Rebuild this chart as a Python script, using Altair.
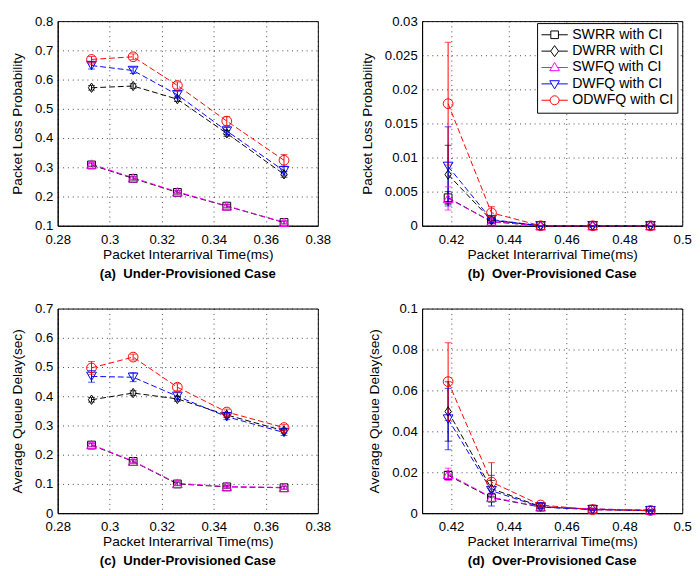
import altair as alt
import pandas as pd

FONT = "Liberation Sans"

series = ["SWRR with CI", "DWRR with CI", "SWFQ with CI", "DWFQ with CI", "ODWFQ with CI"]
colors = ["#000000", "#000000", "#ff00ff", "#0000ff", "#ff0000"]
marker_shapes = ["square", "M0,-1.2L0.8,0L0,1.2L-0.8,0Z", "triangle-up", "triangle-down", "circle"]
marker_sizes = [64, 64, 100, 100, 100]
legend_paths = [
    "M-1,0H-0.29M0.29,0H1M-0.29,-0.29H0.29V0.29H-0.29Z",
    "M-1,0H-0.3M0.3,0H1M0,-0.42L0.3,0L0,0.42L-0.3,0Z",
    "M-1,0H-0.21M0.21,0H1M-0.37,0.24L0,-0.38L0.37,0.24Z",
    "M-1,0H-0.21M0.21,0H1M-0.37,-0.24L0,0.38L0.37,-0.24Z",
    "M-1,0H-0.34M0.34,0H1M0.34,0A0.34,0.34 0 1,1 -0.34,0A0.34,0.34 0 1,1 0.34,0Z",
]

x_under = [0.293, 0.309, 0.326, 0.345, 0.367]
x_over = [0.419, 0.434, 0.451, 0.469, 0.489]

# (a) packet loss probability, under-provisioned
loss_under = {
    "SWRR with CI": [0.308, 0.262, 0.214, 0.167, 0.111],
    "DWRR with CI": [0.572, 0.578, 0.533, 0.416, 0.276],
    "SWFQ with CI": [0.311, 0.264, 0.216, 0.168, 0.112],
    "DWFQ with CI": [0.648, 0.631, 0.548, 0.424, 0.288],
    "ODWFQ with CI": [0.669, 0.678, 0.580, 0.458, 0.324],
}
loss_under_ci = {
    "SWRR with CI": [0.006, 0.006, 0.006, 0.006, 0.005],
    "DWRR with CI": [0.008, 0.008, 0.008, 0.010, 0.010],
    "SWFQ with CI": [0.006, 0.006, 0.006, 0.006, 0.005],
    "DWFQ with CI": [0.012, 0.010, 0.012, 0.012, 0.015],
    "ODWFQ with CI": [0.010, 0.010, 0.012, 0.015, 0.020],
}
# (b) packet loss probability, over-provisioned
loss_over = {
    "SWRR with CI": [0.0041, 0.0006, 0.0, 0.0, 0.0],
    "DWRR with CI": [0.0075, 0.0008, 0.0, 0.0, 0.0],
    "SWFQ with CI": [0.0040, 0.0006, 0.0, 0.0, 0.0],
    "DWFQ with CI": [0.0087, 0.0009, 0.0, 0.0, 0.0],
    "ODWFQ with CI": [0.0179, 0.0019, 0.0, 0.0, 0.0],
}
loss_over_ci = {
    "SWRR with CI": [0.0009, 0.0003, 0.0, 0.0, 0.0],
    "DWRR with CI": [0.0043, 0.0004, 0.0, 0.0, 0.0],
    "SWFQ with CI": [0.0017, 0.0003, 0.0, 0.0, 0.0],
    "DWFQ with CI": [0.0058, 0.0004, 0.0, 0.0, 0.0],
    "ODWFQ with CI": [0.0090, 0.0009, 0.0, 0.0, 0.0],
}
# (c) average queue delay, under-provisioned
delay_under = {
    "SWRR with CI": [0.233, 0.177, 0.100, 0.090, 0.087],
    "DWRR with CI": [0.388, 0.411, 0.391, 0.336, 0.282],
    "SWFQ with CI": [0.235, 0.178, 0.102, 0.091, 0.088],
    "DWFQ with CI": [0.468, 0.465, 0.400, 0.330, 0.276],
    "ODWFQ with CI": [0.497, 0.534, 0.431, 0.346, 0.293],
}
delay_under_ci = {
    "SWRR with CI": [0.006, 0.006, 0.006, 0.005, 0.005],
    "DWRR with CI": [0.008, 0.008, 0.008, 0.008, 0.008],
    "SWFQ with CI": [0.006, 0.006, 0.006, 0.005, 0.005],
    "DWFQ with CI": [0.020, 0.015, 0.012, 0.010, 0.010],
    "ODWFQ with CI": [0.022, 0.010, 0.012, 0.010, 0.010],
}
# (d) average queue delay, over-provisioned
delay_over = {
    "SWRR with CI": [0.0185, 0.0075, 0.0030, 0.0020, 0.0014],
    "DWRR with CI": [0.0497, 0.0120, 0.0032, 0.0019, 0.0013],
    "SWFQ with CI": [0.0190, 0.0078, 0.0031, 0.0021, 0.0015],
    "DWFQ with CI": [0.0460, 0.0110, 0.0030, 0.0017, 0.0012],
    "ODWFQ with CI": [0.0643, 0.0152, 0.0040, 0.0017, 0.0013],
}
delay_over_ci = {
    "SWRR with CI": [0.0020, 0.0020, 0.0005, 0.0004, 0.0003],
    "DWRR with CI": [0.0145, 0.0040, 0.0006, 0.0004, 0.0003],
    "SWFQ with CI": [0.0030, 0.0020, 0.0005, 0.0004, 0.0003],
    "DWFQ with CI": [0.0150, 0.0075, 0.0008, 0.0004, 0.0003],
    "ODWFQ with CI": [0.0190, 0.0095, 0.0010, 0.0005, 0.0005],
}

W, H = 267, 210


def make_df(xs, vals, cis):
    rows = []
    for s in series:
        for xv, v, c in zip(xs, vals[s], cis[s]):
            rows.append({"series": s, "x": xv, "y": v, "lo": v - c, "hi": v + c})
    return pd.DataFrame(rows)


def panel(df, xdom, xvals, ydom, yvals, ytitle, caption, with_legend=False):
    xenc = alt.X("x:Q", scale=alt.Scale(domain=xdom, nice=False, zero=False),
                 axis=alt.Axis(values=xvals, title="Packet Interarrival Time(ms)"))
    yscale = alt.Scale(domain=ydom, nice=False, zero=False)
    yaxis = alt.Axis(values=yvals, title=ytitle)
    yenc = alt.Y("y:Q", scale=yscale, axis=yaxis)
    # colour scale listed in reverse order so that it is never merged with the legend scales
    color = alt.Color("series:N", scale=alt.Scale(domain=series[::-1], range=colors[::-1]), legend=None)
    base = alt.Chart(df)
    lines = base.mark_line(strokeDash=[6, 3], strokeWidth=1).encode(x=xenc, y=yenc, color=color)
    bars = base.transform_filter("datum.hi > datum.lo").mark_rule(strokeWidth=1).encode(
        x=xenc, y=alt.Y("lo:Q", scale=yscale, axis=yaxis), y2="hi:Q", color=color)
    caps_lo = base.transform_filter("datum.hi > datum.lo").mark_tick(
        orient="horizontal", size=7, thickness=1).encode(
        x=xenc, y=alt.Y("lo:Q", scale=yscale, axis=yaxis), color=color)
    caps_hi = base.transform_filter("datum.hi > datum.lo").mark_tick(
        orient="horizontal", size=7, thickness=1).encode(
        x=xenc, y=alt.Y("hi:Q", scale=yscale, axis=yaxis), color=color)
    layers = [lines, bars, caps_lo, caps_hi]
    for s, col, shp, sz in zip(series, colors, marker_shapes, marker_sizes):
        layers.append(
            base.transform_filter(alt.datum.series == s)
            .mark_point(shape=shp, filled=False, size=sz, strokeWidth=1, color=col, opacity=1)
            .encode(x=xenc, y=yenc)
        )
    if with_legend:
        leg = alt.Legend(title=None, orient="none", legendX=492, legendY=2,
                         fillColor="white", strokeColor="black", padding=4,
                         labelFont=FONT, labelFontSize=14.5, labelColor="black",
                         labelOffset=4, rowPadding=0.8, clipHeight=16,
                         symbolStrokeWidth=1, symbolOpacity=1, symbolSize=729)
        layers.append(
            base.transform_filter("false")
            .mark_point(filled=False, size=729, strokeWidth=1)
            .encode(x=xenc, y=yenc,
                    stroke=alt.Stroke("series:N", scale=alt.Scale(domain=series, range=colors), legend=leg),
                    shape=alt.Shape("series:N", scale=alt.Scale(domain=series, range=legend_paths), legend=leg))
        )
    return alt.layer(*layers).properties(
        width=W, height=H,
        title=alt.TitleParams(caption, orient="bottom", frame="group", anchor="middle"),
    )


pa = panel(make_df(x_under, loss_under, loss_under_ci), [0.28, 0.38],
           [0.28, 0.3, 0.32, 0.34, 0.36, 0.38], [0.1, 0.8],
           [0.1, 0.2, 0.3, 0.4, 0.5, 0.6, 0.7, 0.8], "Packet Loss Probability",
           "(a)\u00a0 Under-Provisioned Case")
pb = panel(make_df(x_over, loss_over, loss_over_ci), [0.41, 0.5],
           [0.42, 0.44, 0.46, 0.48, 0.5], [0, 0.03],
           [0, 0.005, 0.01, 0.015, 0.02, 0.025, 0.03], "Packet Loss Probability",
           "(b)\u00a0 Over-Provisioned Case", with_legend=True)
pc = panel(make_df(x_under, delay_under, delay_under_ci), [0.28, 0.38],
           [0.28, 0.3, 0.32, 0.34, 0.36, 0.38], [0, 0.7],
           [0, 0.1, 0.2, 0.3, 0.4, 0.5, 0.6, 0.7], "Average Queue Delay(sec)",
           "(c)\u00a0 Under-Provisioned Case")
pd_ = panel(make_df(x_over, delay_over, delay_over_ci), [0.41, 0.5],
            [0.42, 0.44, 0.46, 0.48, 0.5], [0, 0.1],
            [0, 0.02, 0.04, 0.06, 0.08, 0.1], "Average Queue Delay(sec)",
            "(d)\u00a0 Over-Provisioned Case")

chart = alt.concat(pa, pb, pc, pd_, columns=2, spacing={"row": 20, "column": 29}).properties(
    padding={"left": 2, "top": -2, "right": 0, "bottom": 0},
    background="white",
).configure_axis(
    labelFont=FONT, labelFontSize=13.5, labelColor="black",
    titleFont=FONT, titleFontSize=14, titleFontWeight="normal", titleColor="black",
    domainColor="black", domainWidth=1, ticks=False,
    grid=True, gridColor="black", gridDash=[1, 4], gridOpacity=0.75, gridWidth=1,
    labelFlush=False, labelOverlap=False, format="~f",
).configure_axisX(labelPadding=7, titlePadding=2).configure_axisY(
    labelPadding=5, titlePadding=10
).configure_view(stroke="black", strokeWidth=1).configure_title(
    font=FONT, fontSize=13.5, fontWeight="bold", color="black", offset=6
)

chart.save("out.html", embed_options={"renderer": "svg", "actions": False})
